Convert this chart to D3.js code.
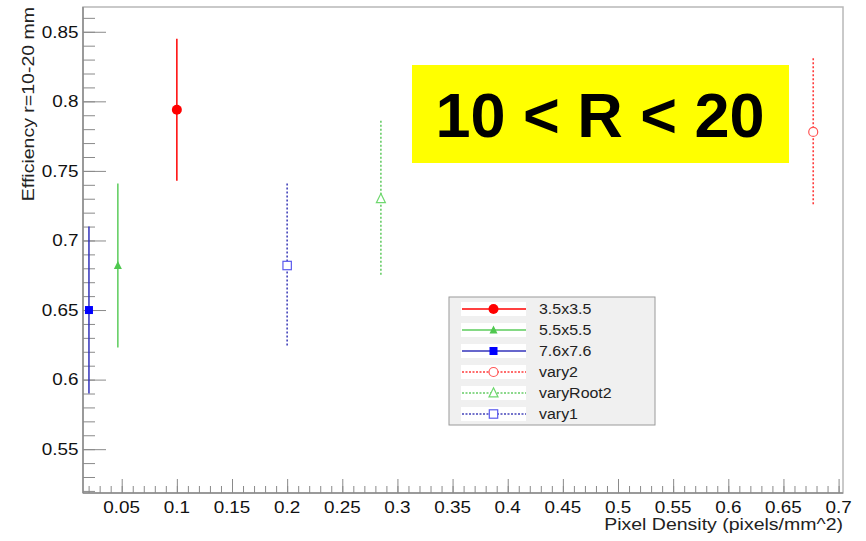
<!DOCTYPE html>
<html>
<head>
<meta charset="utf-8">
<script src="https://cdn.jsdelivr.net/npm/d3@7"></script>
<style>
  html, body { margin: 0; padding: 0; background: #fff; }
  svg { display: block; font-family: "Liberation Sans", Arial, sans-serif; }
</style>
</head>
<body>
<svg id="chart" width="866" height="541"></svg>
<script>
// Efficiency vs pixel density, one point per pixel configuration
const seriesNames = ["3.5x3.5", "5.5x5.5", "7.6x7.6", "vary2", "varyRoot2", "vary1"];
const xValues = [0.1, 0.0465, 0.0203, 0.677, 0.285, 0.2];
const yValues = [0.794, 0.682, 0.650, 0.778, 0.730, 0.682];
const yErrors = [0.051, 0.059, 0.060, 0.053, 0.056, 0.059];

const xTickLabels = ["0.05", "0.1", "0.15", "0.2", "0.25", "0.3", "0.35", "0.4", "0.45",
                     "0.5", "0.55", "0.6", "0.65", "0.7"];
const yTickLabels = ["0.55", "0.6", "0.65", "0.7", "0.75", "0.8", "0.85"];
const xDomain = [0.0149, 0.7040];
const yDomain = [0.5185, 0.8678];

const xTitle = "Pixel Density (pixels/mm^2)";
const yTitle = "Efficiency r=10-20 mm";
const headline = "10 < R < 20";

// Visual style per series: colour, marker shape, filled or open, solid or dotted
const styles = [
  { color: "#ff0000", lineColor: "#ff0000", marker: "circle", filled: true, dotted: false },
  { color: "#4fc84f", lineColor: "#5ccc5c", marker: "triangle", filled: true, dotted: false },
  { color: "#0000ff", lineColor: "#3333bb", marker: "square", filled: true, dotted: false },
  { color: "#ff5555", lineColor: "#ff3b3b", marker: "circle", filled: false, dotted: true },
  { color: "#6fd86f", lineColor: "#66cc66", marker: "triangle", filled: false, dotted: true },
  { color: "#5a5aee", lineColor: "#4444bb", marker: "square", filled: false, dotted: true }
];

const frame = { left: 83, right: 843, top: 7, bottom: 493 };
const svg = d3.select("#chart");

const x = d3.scaleLinear().domain(xDomain).range([frame.left, frame.right]);
const y = d3.scaleLinear().domain(yDomain).range([frame.bottom, frame.top]);

// Text with a wider set width (horizontal stretch around its anchor point)
function wideText(parent, tx, ty, str, opts) {
  const g = parent.append("g")
    .attr("transform", `translate(${tx},${ty}) rotate(${opts.rotate || 0}) scale(${opts.stretch},1)`);
  return g.append("text")
    .attr("x", 0).attr("y", 0)
    .attr("dy", opts.dy || null)
    .attr("text-anchor", opts.anchor || "start")
    .attr("font-size", opts.size)
    .attr("fill", opts.fill || "#111")
    .text(str);
}

// Frame
svg.append("rect")
  .attr("x", frame.left).attr("y", frame.top)
  .attr("width", frame.right - frame.left).attr("height", frame.bottom - frame.top)
  .attr("fill", "none").attr("stroke", "#b8b8b8").attr("stroke-width", 1.5);

const axisColor = "#8a8a8a";

// X axis: major ticks every 0.05, minor every 0.01
const xMajor = xTickLabels.map(Number);
const xMinor = d3.range(2, 71).map(i => i / 100).filter(v => v >= xDomain[0] && v <= xDomain[1]);
const xAxisMinor = d3.axisTop(x).tickValues(xMinor).tickSize(7).tickFormat("");
const xAxisMajor = d3.axisTop(x).tickValues(xMajor).tickSize(14).tickFormat("");
[xAxisMinor, xAxisMajor].forEach(ax => {
  const g = svg.append("g").attr("transform", `translate(0,${frame.bottom})`).call(ax);
  g.select(".domain").remove();
  g.selectAll("line").attr("stroke", axisColor).attr("stroke-width", 1);
});
svg.append("line")
  .attr("x1", frame.left).attr("x2", frame.right)
  .attr("y1", frame.bottom).attr("y2", frame.bottom)
  .attr("stroke", axisColor).attr("stroke-width", 1.5);
const xLabels = svg.append("g");
xTickLabels.forEach(d => {
  wideText(xLabels, x(+d), 513, d, { size: 16, stretch: 1.18, anchor: "middle" });
});

// Y axis: major ticks every 0.05, minor every 0.01
const yMajor = yTickLabels.map(Number);
const yMinor = d3.range(52, 87).map(i => i / 100).filter(v => v >= yDomain[0] && v <= yDomain[1]);
const yAxisMinor = d3.axisRight(y).tickValues(yMinor).tickSize(12).tickFormat("");
const yAxisMajor = d3.axisRight(y).tickValues(yMajor).tickSize(23).tickFormat("");
[yAxisMinor, yAxisMajor].forEach(ax => {
  const g = svg.append("g").attr("transform", `translate(${frame.left},0)`).call(ax);
  g.select(".domain").remove();
  g.selectAll("line").attr("stroke", axisColor).attr("stroke-width", 1);
});
svg.append("line")
  .attr("x1", frame.left).attr("x2", frame.left)
  .attr("y1", frame.top).attr("y2", frame.bottom)
  .attr("stroke", axisColor).attr("stroke-width", 1.5);
const yLabels = svg.append("g");
yTickLabels.forEach(d => {
  wideText(yLabels, 78.5, y(+d), d, { size: 16, stretch: 1.18, anchor: "end", dy: "0.36em" });
});

// Axis titles
wideText(svg, frame.right, 530, xTitle, { size: 16, stretch: 1.22, anchor: "end", fill: "#222" });
wideText(svg, 34, frame.top, yTitle, { size: 16, stretch: 1.22, anchor: "end", fill: "#222", rotate: -90 });

// Marker drawing helper
function drawMarker(g, shape, cx, cy, size, st) {
  const fill = st.filled ? st.color : "#fff";
  const stroke = st.color;
  const sw = st.filled ? 0 : 1.2;
  if (shape === "circle") {
    g.append("circle").attr("cx", cx).attr("cy", cy).attr("r", size)
      .attr("fill", fill).attr("stroke", stroke).attr("stroke-width", sw);
  } else if (shape === "square") {
    g.append("rect").attr("x", cx - size).attr("y", cy - size)
      .attr("width", 2 * size).attr("height", 2 * size)
      .attr("fill", fill).attr("stroke", stroke).attr("stroke-width", sw);
  } else {
    const h = size * 1.15;
    g.append("path")
      .attr("d", `M${cx},${cy - h} L${cx + size},${cy + h * 0.75} L${cx - size},${cy + h * 0.75} Z`)
      .attr("fill", fill).attr("stroke", stroke).attr("stroke-width", sw);
  }
}
const markerSize = { circle: 5, square: 4, triangle: 4 };
const openSize = { circle: 4.5, square: 4.2, triangle: 4.5 };

// Error bars and points
const points = svg.append("g");
seriesNames.forEach((name, i) => {
  const st = styles[i];
  const px = x(xValues[i]);
  points.append("line")
    .attr("x1", px).attr("x2", px)
    .attr("y1", y(yValues[i] + yErrors[i])).attr("y2", y(yValues[i] - yErrors[i]))
    .attr("stroke", st.lineColor)
    .attr("stroke-width", st.dotted ? 1.6 : 1.5)
    .attr("stroke-dasharray", st.dotted ? "2,2" : null);
  drawMarker(points, st.marker, px, y(yValues[i]),
    st.filled ? markerSize[st.marker] : openSize[st.marker], st);
});

// Highlighted region label
svg.append("rect")
  .attr("x", 412).attr("y", 65).attr("width", 377).attr("height", 98)
  .attr("fill", "#ffff00");
svg.append("text")
  .attr("x", 600).attr("y", 137)
  .attr("text-anchor", "middle").attr("font-size", 63).attr("font-weight", "bold")
  .attr("fill", "#000")
  .text(headline);

// Legend
const legend = svg.append("g");
legend.append("rect")
  .attr("x", 449).attr("y", 297).attr("width", 206).attr("height", 128)
  .attr("fill", "#f0f0f0").attr("stroke", "#9a9a9a").attr("stroke-width", 1);
seriesNames.forEach((name, i) => {
  const st = styles[i];
  const ly = 309 + i * 21;
  legend.append("rect")
    .attr("x", 461).attr("y", ly - 7).attr("width", 65).attr("height", 14)
    .attr("fill", "#fff");
  legend.append("line")
    .attr("x1", 462).attr("x2", 526).attr("y1", ly).attr("y2", ly)
    .attr("stroke", st.lineColor).attr("stroke-width", st.dotted ? 1.3 : 1.6)
    .attr("stroke-dasharray", st.dotted ? "2,1.5" : null);
  drawMarker(legend, st.marker, 493.5, ly,
    st.filled ? markerSize[st.marker] : openSize[st.marker], st);
  wideText(legend, 539, ly, name, { size: 14.5, stretch: 1.1, dy: "0.36em", fill: "#222" });
});
</script>
</body>
</html>
